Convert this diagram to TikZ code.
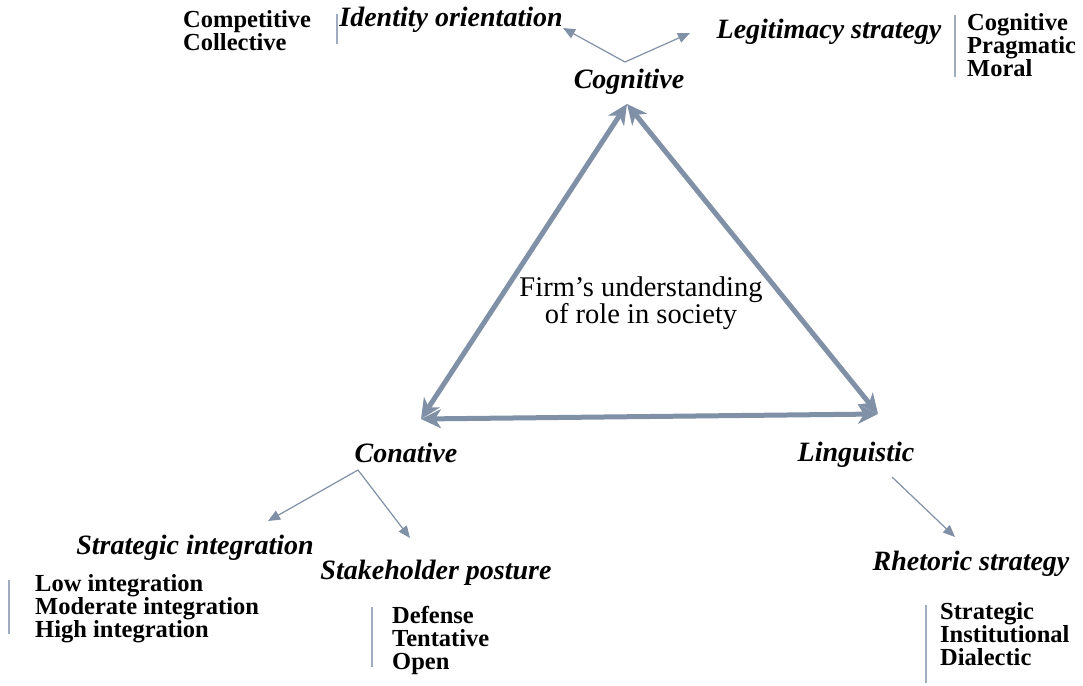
\documentclass[tikz,border=0pt]{standalone}
\usepackage{fontspec}
\setmainfont{Liberation Serif}
\usetikzlibrary{arrows.meta}

\definecolor{slate}{RGB}{128,144,166}
\definecolor{barblue}{RGB}{160,172,192}

\begin{document}
\begin{tikzpicture}[x=1pt,y=-1pt,
    head/.style={font=\fontsize{28}{29}\selectfont\bfseries\itshape, inner sep=0pt},
    items/.style={font=\fontsize{24.5}{23}\selectfont\bfseries, align=left, inner sep=0pt, anchor=west},
    thinarrow/.style={draw=slate, line width=1.2pt, -{Triangle[length=12pt,width=10pt]}},
    bar/.style={draw=barblue, line width=1.4pt},
    tri/.style={draw=slate, line width=5pt,
        {Stealth[length=20pt,width=19pt,inset=6pt]}-{Stealth[length=20pt,width=19pt,inset=6pt]}}]
    \useasboundingbox (0,0) rectangle (1083,685);

    % Corners of the triangle
    \node[head] (cog) at (629,82) {Cognitive};
    \node[head] (con) at (406,453) {Conative};
    \node[head] (lin) at (856,455) {Linguistic};

    % Centre text
    \node[font=\fontsize{28.5}{27}\selectfont, align=center, inner sep=0pt] (firm) at (641,303)
        {Firm's understanding\\of role in society};

    % Triangle with double arrows
    \coordinate (tc) at (627,104);
    \coordinate (tl) at (421,419);
    \coordinate (tr) at (878,414);
    \draw[tri] (tc) -- (tl);
    \draw[tri] (tc) -- (tr);
    \draw[tri] (tl) -- (tr);

    % --- Cognitive: identity and legitimacy ---
    \node[head] (ident) at (451,20) {Identity orientation};
    \node[head] (legit) at (829,32) {Legitimacy strategy};
    \node[items] (identlist) at (183,31) {Competitive\\Collective};
    \node[items] (legitlist) at (967,45) {Cognitive\\Pragmatic\\Moral};
    \coordinate (cogroot) at (625,62);
    \coordinate (identend) at (563,28);
    \coordinate (legitend) at (690,33);
    \draw[thinarrow] (cogroot) -- (identend);
    \draw[thinarrow] (cogroot) -- (legitend);
    \draw[bar] (337,14) -- (337,44);
    \draw[bar] (955,15) -- (955,77);

    % --- Conative: integration and posture ---
    \node[head] (stratint) at (195,548) {Strategic integration};
    \node[head] (stake) at (436,573) {Stakeholder posture};
    \node[items] (intlist) at (35,609) {Low integration\\Moderate integration\\High integration};
    \node[items] (stakelist) at (392,640) {Defense\\Tentative\\Open};
    \coordinate (conroot) at (358,470);
    \coordinate (intend) at (268,521);
    \coordinate (stakeend) at (410,538);
    \draw[thinarrow] (conroot) -- (intend);
    \draw[thinarrow] (conroot) -- (stakeend);
    \draw[bar] (9,580) -- (9,634);
    \draw[bar] (372,607) -- (372,667);

    % --- Linguistic: rhetoric ---
    \node[head] (rhet) at (971,564) {Rhetoric strategy};
    \node[items] (rhetlist) at (940,634) {Strategic\\Institutional\\Dialectic};
    \coordinate (linroot) at (892,477);
    \coordinate (rhetend) at (955,537);
    \draw[thinarrow] (linroot) -- (rhetend);
    \draw[bar] (926,605) -- (926,683);
\end{tikzpicture}
\end{document}
